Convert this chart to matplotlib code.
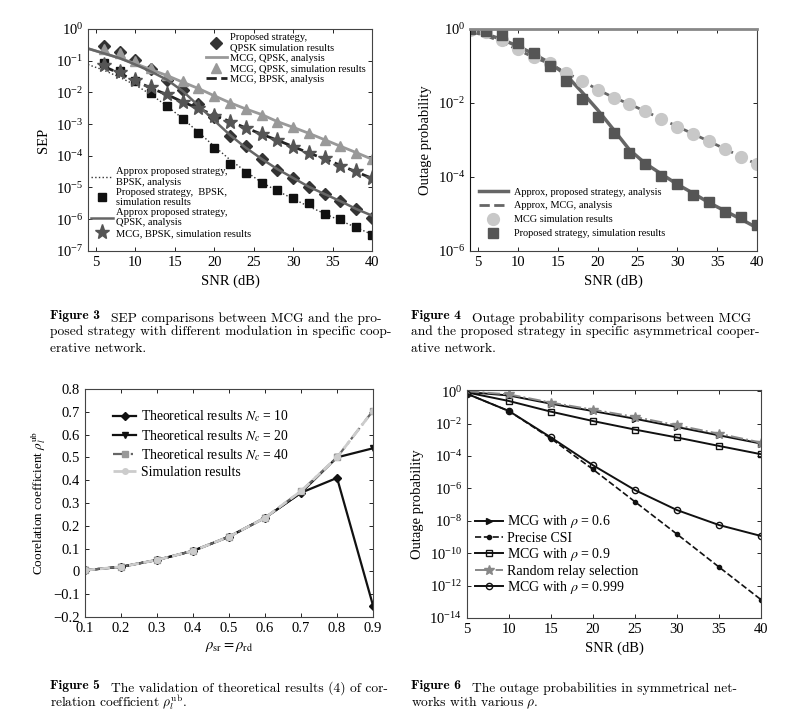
import numpy as np
import matplotlib
matplotlib.use("Agg")
import matplotlib.pyplot as plt
from matplotlib.ticker import NullLocator, FixedLocator

plt.rcParams['font.family'] = ['Liberation Serif', 'DejaVu Serif']
plt.rcParams['mathtext.fontset'] = 'stix'
plt.rcParams['xtick.direction'] = 'in'
plt.rcParams['ytick.direction'] = 'in'
plt.rcParams['xtick.top'] = True
plt.rcParams['ytick.right'] = True
plt.rcParams['axes.linewidth'] = 0.8
plt.rcParams['axes.edgecolor'] = '#444444'

# ---- Figure 3: SEP ----
snr3 = [4, 6, 8, 10, 12, 14, 16, 18, 20, 22, 24, 26, 28, 30, 32, 34, 36, 38, 40]
snr3_sim = snr3[1:]
sep_prop_qpsk_sim = [0.28, 0.19, 0.107, 0.055, 0.025, 0.0115, 4.4e-3, 1.7e-3, 4.3e-4, 2.0e-4,
                     7.8e-5, 3.5e-5, 1.95e-5, 1.05e-5, 6.2e-6, 3.7e-6, 2.1e-6, 1.1e-6]
sep_mcg_qpsk_ana = [0.24, 0.17, 0.12, 0.08, 0.052, 0.034, 0.021, 0.0132, 0.0078, 0.0047,
                    0.003, 0.002, 0.0012, 7.9e-4, 5.1e-4, 3.2e-4, 2.0e-4, 1.26e-4, 7.8e-5]
sep_mcg_qpsk_sim = [0.23, 0.17, 0.095, 0.059, 0.036, 0.022, 0.0136, 7.5e-3, 4.6e-3, 3.0e-3,
                    1.95e-3, 1.2e-3, 8e-4, 5.1e-4, 3.2e-4, 2.0e-4, 1.26e-4, 7.8e-5]
sep_mcg_bpsk_ana = [0.065, 0.04, 0.023, 0.0135, 0.0085, 0.005, 0.0031, 1.9e-3, 1.2e-3,
                    7.6e-4, 4.8e-4, 3.1e-4, 1.95e-4, 1.22e-4, 8e-5, 5e-5, 3.1e-5, 1.95e-5]
sep_prop_bpsk_ana = [0.075, 0.05, 0.03, 0.017, 0.0085, 0.0037, 0.0015, 5.5e-4, 2e-4, 7.5e-5,
                     3.2e-5, 1.45e-5, 7.8e-6, 4.4e-6, 2.5e-6, 1.5e-6, 9e-7, 5.5e-7, 3.3e-7]
sep_prop_bpsk_sim = [0.085, 0.046, 0.022, 0.0098, 3.8e-3, 1.45e-3, 5.1e-4, 1.7e-4, 5.5e-5,
                     2.8e-5, 1.35e-5, 8.3e-6, 4.5e-6, 3.2e-6, 1.5e-6, 1.05e-6, 5.8e-7, 3.2e-7]
sep_prop_qpsk_ana = [0.24, 0.17, 0.12, 0.075, 0.045, 0.025, 0.011, 0.0038, 1.3e-3, 4.5e-4,
                     1.8e-4, 8e-5, 3.8e-5, 2e-5, 1.05e-5, 6.2e-6, 3.7e-6, 2.1e-6, 1.3e-6]
sep_mcg_bpsk_sim = [0.074, 0.045, 0.025, 0.015, 9e-3, 5e-3, 3.3e-3, 1.8e-3, 1.2e-3, 7.4e-4,
                    4.8e-4, 3.2e-4, 1.95e-4, 1.2e-4, 8.3e-5, 4.8e-5, 3.2e-5, 1.95e-5]

# ---- Figure 4: outage, asymmetrical ----
snr4 = [4, 6, 8, 10, 12, 14, 16, 18, 20, 22, 24, 26, 28, 30, 32, 34, 36, 38, 40]
out_prop_ana = [0.92, 0.72, 0.52, 0.34, 0.21, 0.12, 0.058, 0.02, 6.5e-3, 1.9e-3, 5.4e-4,
                2.3e-4, 1.2e-4, 6.3e-5, 3.6e-5, 2e-5, 1.2e-5, 7.2e-6, 4.2e-6]
out_mcg_ana = [0.85, 0.65, 0.45, 0.27, 0.17, 0.115, 0.066, 0.04, 0.023, 0.014, 9.3e-3,
               5.9e-3, 3.7e-3, 2.3e-3, 1.45e-3, 9.1e-4, 5.7e-4, 3.5e-4, 2.2e-4]
out_mcg_sim = [0.95, 0.8, 0.51, 0.29, 0.17, 0.12, 0.066, 0.04, 0.023, 0.014, 9.3e-3,
               5.9e-3, 3.7e-3, 2.3e-3, 1.45e-3, 9.1e-4, 5.7e-4, 3.5e-4, 2.2e-4]
out_prop_sim = [1.0, 0.87, 0.67, 0.42, 0.22, 0.10, 0.038, 0.013, 4.1e-3, 1.5e-3, 4.4e-4,
                2.2e-4, 1.07e-4, 6.3e-5, 3.2e-5, 2.1e-5, 1.15e-5, 8.3e-6, 5e-6]

# ---- Figure 5: correlation coefficient ----
rho5 = [0.1, 0.2, 0.3, 0.4, 0.5, 0.6, 0.7, 0.8, 0.9]
corr_nc10 = [0.005, 0.02, 0.05, 0.09, 0.152, 0.235, 0.345, 0.41, -0.15]
corr_nc20 = [0.005, 0.02, 0.05, 0.09, 0.152, 0.235, 0.345, 0.5, 0.54]
corr_nc40 = [0.005, 0.02, 0.05, 0.09, 0.152, 0.235, 0.352, 0.5, 0.705]
corr_sim = [0.005, 0.02, 0.05, 0.09, 0.152, 0.235, 0.352, 0.5, 0.705]

# ---- Figure 6: outage, symmetrical ----
snr6 = [5, 10, 15, 20, 25, 30, 35, 40]
out_rho06 = [0.9, 0.55, 0.17, 0.06, 0.02, 6.2e-3, 1.9e-3, 5.9e-4]
out_csi = [0.7, 0.06, 1.2e-3, 1.5e-5, 1.5e-7, 1.5e-9, 1.4e-11, 1.35e-13]
out_rho09 = [0.85, 0.25, 0.055, 0.0145, 4.3e-3, 1.4e-3, 4.2e-4, 1.3e-4]
out_random = [1.0, 0.64, 0.2, 0.073, 0.026, 7.9e-3, 2.4e-3, 6.8e-4]
out_rho0999 = [0.7, 0.06, 1.4e-3, 2.7e-5, 7.9e-7, 4.6e-8, 5.5e-9, 1.16e-9]

fig = plt.figure(figsize=(7.9, 7.19), dpi=100)

ax3 = fig.add_axes([0.1114, 0.651, 0.3595, 0.3088])
ax4 = fig.add_axes([0.595, 0.651, 0.3633, 0.3088])
ax5 = fig.add_axes([0.1076, 0.1419, 0.3646, 0.3171])
ax6 = fig.add_axes([0.5911, 0.1405, 0.3722, 0.3171])

# figure 3
h1, = ax3.plot(snr3_sim, sep_prop_qpsk_sim, 'D', color='#333333', ms=6, ls='none')
h2, = ax3.plot(snr3, sep_mcg_qpsk_ana, '-', color='#999999', lw=2)
h3, = ax3.plot(snr3_sim, sep_mcg_qpsk_sim, '^', color='#999999', ms=6.5, ls='none')
h4, = ax3.plot(snr3_sim, sep_mcg_bpsk_ana, '--', color='#222222', lw=2)
h5, = ax3.plot(snr3, sep_prop_bpsk_ana, ':', color='#333333', lw=1)
h6, = ax3.plot(snr3_sim, sep_prop_bpsk_sim, 's', color='#111111', ms=6, ls='none')
h7, = ax3.plot(snr3, sep_prop_qpsk_ana, '-', color='#666666', lw=1.8)
h8, = ax3.plot(snr3_sim, sep_mcg_bpsk_sim, '*', color='#555555', ms=11, ls='none')
ax3.set_yscale('log')
ax3.set_xlim(4, 40)
ax3.set_ylim(1e-7, 1)
ax3.set_xticks([5, 10, 15, 20, 25, 30, 35, 40])
ax3.yaxis.set_major_locator(FixedLocator([10.0 ** k for k in range(-7, 1)]))
ax3.yaxis.set_minor_locator(NullLocator())
ax3.set_xlabel('SNR (dB)', fontsize=10.5)
ax3.set_ylabel('SEP', fontsize=10.5)
leg_a = ax3.legend([h1, h2, h3, h4],
                   ['Proposed strategy,\nQPSK simulation results', 'MCG, QPSK, analysis',
                    'MCG, QPSK, simulation results', 'MCG, BPSK, analysis'],
                   loc='upper right', bbox_to_anchor=(1.0, 1.01), frameon=False, fontsize=7.6,
                   handlelength=2.0, handletextpad=0.3, labelspacing=0.1, borderaxespad=0.2)
ax3.add_artist(leg_a)
ax3.legend([h5, h6, h7, h8],
           ['Approx proposed strategy,\nBPSK, analysis', 'Proposed strategy,  BPSK,\nsimulation results',
            'Approx proposed strategy,\nQPSK, analysis', 'MCG, BPSK, simulation results'],
           loc='lower left', bbox_to_anchor=(-0.01, 0.03), frameon=False, fontsize=7.6,
           handlelength=2.0, handletextpad=0.3, labelspacing=0.1, borderaxespad=0.2)

# figure 4
g1, = ax4.plot(snr4, out_prop_ana, '-', color='#666666', lw=2.5)
g2, = ax4.plot(snr4, out_mcg_ana, '--', color='#666666', lw=2)
g3, = ax4.plot(snr4, out_mcg_sim, 'o', color='#c8c8c8', ms=8.5, ls='none')
g4, = ax4.plot(snr4, out_prop_sim, 's', color='#555555', ms=6.5, ls='none')
ax4.set_yscale('log')
ax4.set_xlim(4, 40)
ax4.set_ylim(1e-6, 1)
ax4.set_xticks([5, 10, 15, 20, 25, 30, 35, 40])
ax4.yaxis.set_major_locator(FixedLocator([1e-6, 1e-4, 1e-2, 1e0]))
ax4.yaxis.set_minor_locator(NullLocator())
ax4.spines['top'].set_color('#888888')
ax4.spines['top'].set_linewidth(2)
ax4.spines['left'].set_color('#111111')
ax4.set_xlabel('SNR (dB)', fontsize=10.5)
ax4.set_ylabel('Outage probability', fontsize=10.5)
ax4.legend([g1, g2, g3, g4],
           ['Approx, proposed strategy, analysis', 'Approx, MCG, analysis',
            'MCG simulation results', 'Proposed strategy, simulation results'],
           loc='lower left', bbox_to_anchor=(0.01, 0.03), frameon=False, fontsize=7.4,
           handlelength=2.8, handletextpad=0.6, labelspacing=0.45, borderaxespad=0.2)

# figure 5
ax5.plot(rho5, corr_nc10, '-', color='#111111', lw=1.6, marker='D', ms=4,
         label='Theoretical results $N_c$ = 10')
ax5.plot(rho5, corr_nc20, '-', color='#111111', lw=1.6, marker='v', ms=5,
         label='Theoretical results $N_c$ = 20')
ax5.plot(rho5, corr_nc40, '-.', color='#666666', lw=1.6, marker='s', ms=4,
         mfc='#999999', mec='#999999', label='Theoretical results $N_c$ = 40')
ax5.plot(rho5, corr_sim, '--', color='#cccccc', lw=2, marker='o', ms=4,
         mfc='#cccccc', mec='#cccccc', label='Simulation results')
ax5.set_xlim(0.1, 0.9)
ax5.set_ylim(-0.2, 0.8)
ax5.set_xticks(rho5)
ax5.set_yticks([-0.2, -0.1, 0, 0.1, 0.2, 0.3, 0.4, 0.5, 0.6, 0.7, 0.8])
ax5.set_yticklabels(['\u22120.2', '\u22120.1', '0', '0.1', '0.2', '0.3', '0.4', '0.5', '0.6', '0.7', '0.8'])
ax5.set_xlabel(r'$\rho_{\rm sr} = \rho_{\rm rd}$', fontsize=10.5)
ax5.set_ylabel(r'Coorelation coefficient $\rho_l^{\rm ub}$', fontsize=9.5)
ax5.legend(loc='upper left', bbox_to_anchor=(0.07, 0.95), frameon=False, fontsize=9.8,
           handlelength=1.7, handletextpad=0.3, labelspacing=0.25, borderaxespad=0.2)

# figure 6
ax6.plot(snr6, out_rho06, '-', color='#111111', lw=1.4, marker='>', ms=5,
         label=r'MCG with $\rho$ = 0.6')
ax6.plot(snr6, out_csi, '--', color='#111111', lw=1.2, marker='o', ms=3,
         label='Precise CSI')
ax6.plot(snr6, out_rho09, '-', color='#111111', lw=1.4, marker='s', ms=4.5, mfc='none',
         label=r'MCG with $\rho$ = 0.9')
ax6.plot(snr6, out_random, '-.', color='#888888', lw=1.4, marker='*', ms=7,
         label='Random relay selection')
ax6.plot(snr6, out_rho0999, '-', color='#111111', lw=1.4, marker='o', ms=4.5, mfc='none',
         label=r'MCG with $\rho$ = 0.999')
ax6.set_yscale('log')
ax6.set_xlim(5, 40)
ax6.set_ylim(1e-14, 1.2)
ax6.set_xticks([5, 10, 15, 20, 25, 30, 35, 40])
ax6.yaxis.set_major_locator(FixedLocator([10.0 ** k for k in range(-14, 1, 2)]))
ax6.yaxis.set_minor_locator(NullLocator())
ax6.set_xlabel('SNR (dB)', fontsize=10.5)
ax6.set_ylabel('Outage probability', fontsize=10.5)
ax6.legend(loc='lower left', bbox_to_anchor=(0.0, 0.06), frameon=False, fontsize=10,
           handlelength=2.0, handletextpad=0.3, labelspacing=0.1, borderaxespad=0.2)

for ax in (ax3, ax4, ax5, ax6):
    ax.tick_params(labelsize=10.5, length=3, width=0.6)

# captions
def caption(x, y, head, lines, gap):
    t = fig.text(x, y, head, family='cmb10', fontsize=9.7, va='baseline')
    fig.add_artist(matplotlib.text.Annotation(
        lines[0], xy=(1, 0), xycoords=t, xytext=(8, 0), textcoords='offset points',
        family='cmr10', fontsize=9.7, va='baseline', math_fontfamily='cm'))
    for i, ln in enumerate(lines[1:]):
        fig.text(x, y - (i + 1) * gap / 719, ln, family='cmr10', fontsize=9.7,
                 va='baseline', math_fontfamily='cm')

caption(50 / 790, 1 - 319 / 719, 'Figure 3',
        ['SEP comparisons between MCG and the pro-',
         'posed strategy with different modulation in specific coop-',
         'erative network.'], 16.5)
caption(411 / 790, 1 - 319 / 719, 'Figure 4',
        ['Outage probability comparisons between MCG',
         'and the proposed strategy in specific asymmetrical cooper-',
         'ative network.'], 16.5)
caption(50 / 790, 1 - 689 / 719, 'Figure 5',
        ['The validation of theoretical results (4) of cor-',
         r'relation coefficient $\rho_l^{\rm ub}$.'], 17.5)
caption(411 / 790, 1 - 689 / 719, 'Figure 6',
        ['The outage probabilities in symmetrical net-',
         r'works with various $\rho$.'], 17.5)

fig.savefig('out.png', dpi=100)
